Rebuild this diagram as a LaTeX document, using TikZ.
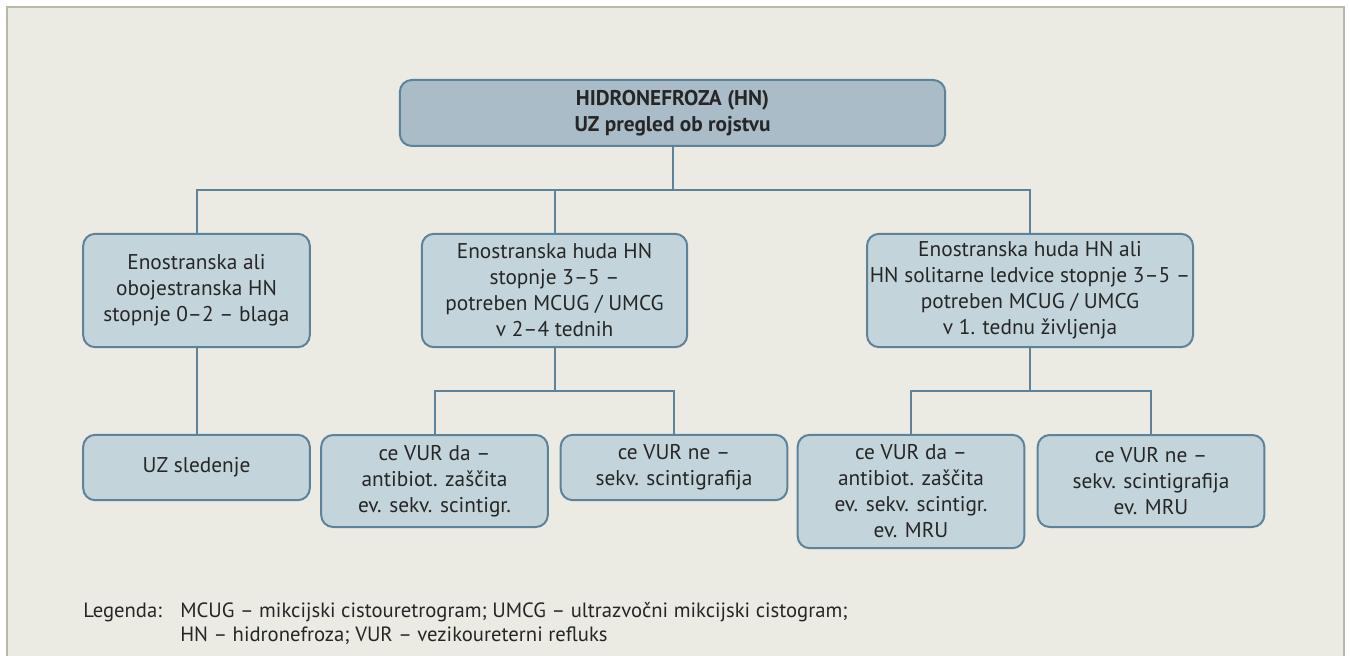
\documentclass[tikz,border=0pt]{standalone}
\usepackage{fontspec}
\setmainfont{PT Sans}
\definecolor{bgc}{HTML}{EBEBE4}
\definecolor{framec}{HTML}{BAB8A8}
\definecolor{linec}{HTML}{5E8399}
\definecolor{topc}{HTML}{A9BCC7}
\definecolor{boxc}{HTML}{C3D5DA}
\definecolor{txtc}{HTML}{262626}

\begin{document}
\begin{tikzpicture}[x=0.75pt,y=-0.75pt,
    box/.style={draw=linec, fill=boxc, line width=1.5pt, rounded corners=9pt,
        align=center, text=txtc, font=\fontsize{16}{19.5}\selectfont, inner sep=1pt},
    topbox/.style={box, fill=topc, font=\fontsize{16}{19.5}\selectfont\bfseries},
    link/.style={draw=linec, line width=1.5pt},
    legend/.style={anchor=west, text=txtc, font=\fontsize{15.5}{18}\selectfont, inner sep=0pt}]
    \useasboundingbox (0,0) rectangle (1350,656);
    % background and frame
    \fill[white] (0,0) rectangle (1350,656);
    \draw[framec, fill=bgc, line width=1.8pt] (7,680) -- (7,7) -- (1344,7) -- (1344,680);

    % top
    \node[topbox, minimum width=409pt, minimum height=49.5pt] (hn) at (672.5,113)
        {HIDRONEFROZA (HN)\\UZ pregled ob rojstvu};

    % second row
    \node[box, minimum width=170pt, minimum height=85pt] (a) at (196.5,290.5)
        {Enostranska ali\\obojestranska HN\\stopnje 0–2 – blaga};
    \node[box, minimum width=199pt, minimum height=85pt] (b) at (554.5,290.5)
        {Enostranska huda HN\\stopnje 3–5 –\\potreben MCUG / UMCG\\v 2–4 tednih};
    \node[box, minimum width=244.5pt, minimum height=85pt] (c) at (1030,290.5)
        {Enostranska huda HN ali\\HN solitarne ledvice stopnje 3–5 –\\potreben MCUG / UMCG\\v 1. tednu življenja};

    % third row
    \node[box, minimum width=170pt, minimum height=49pt] (a1) at (196.5,467.5)
        {UZ sledenje};
    \node[box, minimum width=170pt, minimum height=69pt] (b1) at (434.5,481)
        {ce VUR da –\\antibiot. zaščita\\ev. sekv. scintigr.};
    \node[box, minimum width=170pt, minimum height=49pt] (b2) at (674,467.5)
        {ce VUR ne –\\sekv. scintigrafija};
    \node[box, minimum width=170pt, minimum height=85pt] (c1) at (911,491.5)
        {ce VUR da –\\antibiot. zaščita\\ev. sekv. scintigr.\\ev. MRU};
    \node[box, minimum width=170pt, minimum height=69pt] (c2) at (1151,481)
        {ce VUR ne –\\sekv. scintigrafija\\ev. MRU};

    % connectors
    \draw[link] (hn.south) -- (hn.south |- 0,190);
    \draw[link] (a.north) -- (a.north |- 0,190) -- (c.north |- 0,190) -- (c.north);
    \draw[link] (b.north) -- (b.north |- 0,190);
    \draw[link] (a.south) -- (a1.north);
    \draw[link] (b.south) -- (b.south |- 0,391);
    \draw[link] (b1.north) -- (b1.north |- 0,391) -- (b2.north |- 0,391) -- (b2.north);
    \draw[link] (c.south) -- (c.south |- 0,391);
    \draw[link] (c1.north) -- (c1.north |- 0,391) -- (c2.north |- 0,391) -- (c2.north);

    % legend
    \node[legend] (leg) at (83,612) {Legenda:};
    \node[legend] (leg1) at (180,612) {MCUG – mikcijski cistouretrogram; UMCG – ultrazvočni mikcijski cistogram;};
    \node[legend] (leg2) at (180,636) {HN – hidronefroza; VUR – vezikoureterni refluks};
\end{tikzpicture}
\end{document}
